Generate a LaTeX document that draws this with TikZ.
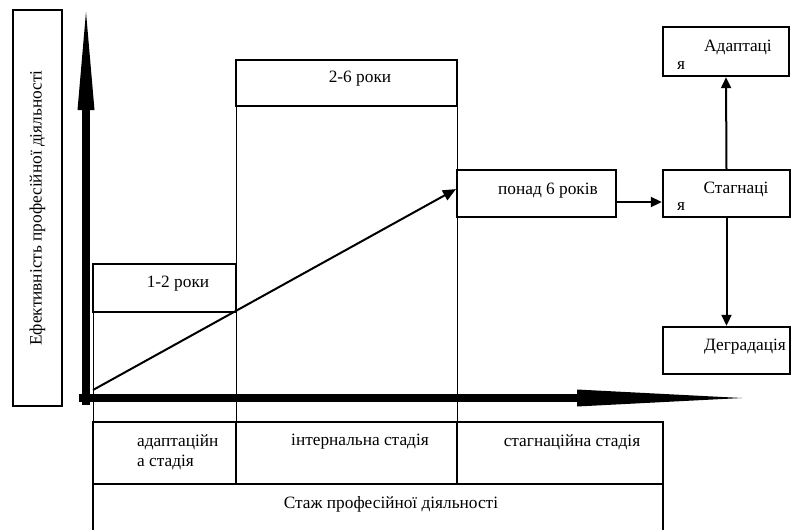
\documentclass[tikz,border=0pt]{standalone}
\usepackage{fontspec}
\setmainfont{Liberation Serif}
\usetikzlibrary{arrows.meta}
\begin{document}
\begin{tikzpicture}[x=1pt,y=-1pt,
  box/.style={draw, line width=2.4pt, inner sep=0pt, outer sep=0pt, anchor=north west},
  txt/.style={font=\fontsize{17.3}{20}\selectfont, inner sep=0pt},
  thinline/.style={line width=0.9pt},
  conn/.style={line width=2pt, shorten >=1.2pt, -{Triangle[length=11pt,width=10pt]}},
  axis/.style={-{Triangle[length=#1,width=17pt,line width=0pt]}}]
\useasboundingbox (0,0) rectangle (795,530);
% boxes
\node[box, minimum width=49pt, minimum height=396pt] (lbl) at (13,10) {};
\node[box, minimum width=143pt, minimum height=48pt] (b12) at (93,264) {};
\node[box, minimum width=221pt, minimum height=46pt] (b26) at (236,60) {};
\node[box, minimum width=159pt, minimum height=47pt] (b6) at (457,170) {};
\node[box, minimum width=127pt, minimum height=47pt] (stag) at (663,170) {};
\node[box, minimum width=126pt, minimum height=49pt] (adapt) at (663,27) {};
\node[box, minimum width=127pt, minimum height=47pt] (degr) at (663,327) {};
% table
\node[box, minimum width=143pt, minimum height=62pt] (c1) at (93,422) {};
\node[box, minimum width=221pt, minimum height=62pt] (c2) at (236,422) {};
\node[box, minimum width=206pt, minimum height=62pt] (c3) at (457,422) {};
\node[box, draw=none, minimum width=570pt, minimum height=46pt] (stazh) at (93,484) {};
\draw[line width=2.4pt] (stazh.south west) -- (stazh.north west) -- (stazh.north east) -- (stazh.south east);
% thin guide lines
\draw[thinline] (b12.south west) -- (c1.north west);
\draw[thinline] (b26.south west) -- (c2.north west);
\draw[thinline] (b26.south east) -- (b6.north west);
\draw[thinline] (b6.south west) -- (c3.north west);
% axes
\coordinate (vo) at (86,405);
\coordinate (vt) at (86,12);
\coordinate (ho) at (79,398);
\coordinate (ht) at (742,398);
\draw[line width=8pt, axis=98pt] (vo) -- (vt);
\draw[line width=8pt, axis=165pt] (ho) -- (ht);
% diagonal
\coordinate (d0) at (93,390);
\draw[conn, -{Triangle[length=13pt,width=11pt]}] (d0) -- ([yshift=5pt]b6.west);
% flow arrows
\draw[conn] ([yshift=-8.5pt]b6.east) -- ([yshift=-8.5pt]stag.west);
\draw[conn] (stag.north) -- (adapt.south);
\draw[conn] (stag.south) -- (degr.north);
% texts
\node[txt, rotate=90] at (lbl.center) {Ефективність професійної діяльності};
\node[txt] at (178,284) {1-2 роки};
\node[txt] at (360,79) {2-6 роки};
\node[txt] at (548,191) {понад 6 років};
\node[txt] at (736,189) {Стагнаці};
\node[txt] at (681,207) {я};
\node[txt] at (738,47) {Адаптаці};
\node[txt] at (681,66) {я};
\node[txt] at (745,347) {Деградація};
\node[txt, anchor=west] at (137,442) {адаптаційн};
\node[txt, anchor=west] at (137,462) {а стадія};
\node[txt] at (360,442) {інтернальна стадія};
\node[txt] at (572,442) {стагнаційна стадія};
\node[txt] at (391,504) {Стаж професійної діяльності};
\end{tikzpicture}
\end{document}
